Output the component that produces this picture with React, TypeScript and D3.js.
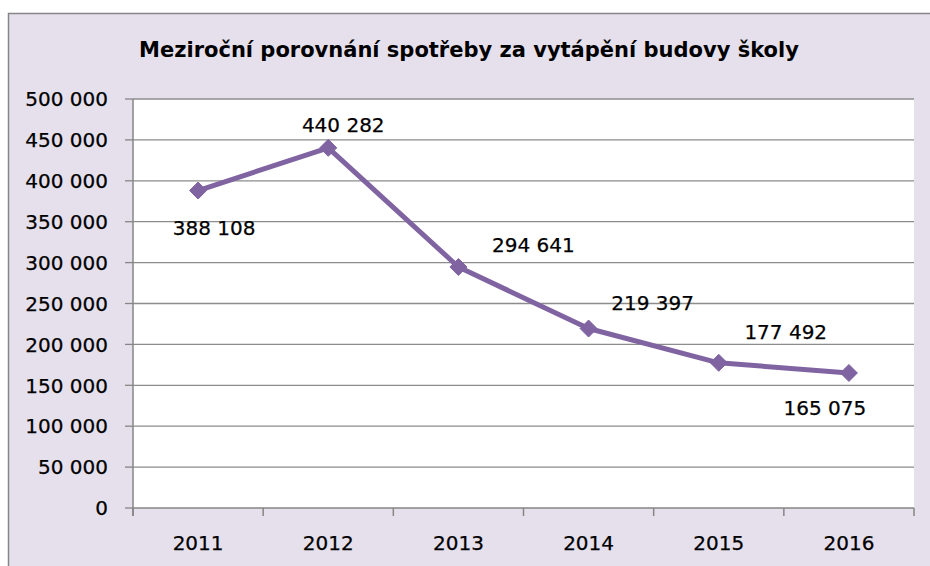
import React from "react";
import * as d3 from "d3";

const title = "Meziroční porovnání spotřeby za vytápění budovy školy";
const years = ["2011", "2012", "2013", "2014", "2015", "2016"];
const consumption = [388108, 440282, 294641, 219397, 177492, 165075];
const yTicks = [0, 50000, 100000, 150000, 200000, 250000, 300000, 350000, 400000, 450000, 500000];
// manual data-label offsets (label center relative to point)
const labelOffsets: [number, number][] = [
  [16, 37],
  [15, -23],
  [75, -22],
  [64, -26],
  [67, -31],
  [-24, 35],
];

const W = 930;
const H = 566;
const plot = { left: 133, right: 914, top: 99, bottom: 508 };
const FONT = "'DejaVu Sans', sans-serif";
const BG = "#E5E0EC";
const LINE = "#8064A2";
const GRID = "#8C8C8C";
const AXIS = "#868686";

const locale = d3.formatLocale({ decimal: ",", thousands: " ", grouping: [3], currency: ["", " Kč"] });
const fmt = locale.format(",d");

export default function App() {
  const x = d3.scaleBand<string>().domain(years).range([plot.left, plot.right]).padding(0);
  const y = d3.scaleLinear().domain([0, 500000]).range([plot.bottom, plot.top]);
  const cx = (yr: string) => (x(yr) as number) + x.bandwidth() / 2;
  const pts = years.map((yr, i) => [cx(yr), y(consumption[i])] as [number, number]);
  const line = d3.line<[number, number]>()(pts) as string;
  const boundaries = years.map((yr) => x(yr) as number).concat([plot.right]);
  const ms = 8.5;

  return (
    <svg width={W} height={H} style={{ position: "absolute", left: 0, top: 0, display: "block" }}>
      <rect x={8.5} y={13.5} width={W + 40} height={H + 40} fill={BG} stroke={AXIS} strokeWidth={1.5} />
      <text x={469} y={57} textAnchor="middle" fontFamily={FONT} fontWeight="bold" fontSize={21} fill="#000">
        {title}
      </text>
      <rect x={plot.left} y={plot.top} width={plot.right - plot.left} height={plot.bottom - plot.top} fill="#fff" />
      {yTicks.map((t) => (
        <g key={t}>
          {t > 0 && (
            <line x1={plot.left} x2={plot.right} y1={y(t)} y2={y(t)} stroke={GRID} strokeWidth={1.3} />
          )}
          <line x1={plot.left - 8} x2={plot.left} y1={y(t)} y2={y(t)} stroke={AXIS} strokeWidth={1.3} />
          <text x={108} y={y(t)} dy="0.36em" textAnchor="end" fontFamily={FONT} fontSize={20} fill="#000" stroke="#000" strokeWidth={0.25}>
            {fmt(t)}
          </text>
        </g>
      ))}
      <line x1={plot.left} x2={plot.left} y1={plot.top} y2={plot.bottom + 8} stroke={AXIS} strokeWidth={1.5} />
      <line x1={plot.left} x2={plot.right} y1={plot.bottom} y2={plot.bottom} stroke={AXIS} strokeWidth={1.5} />
      {boundaries.map((b, i) => (
        <line key={i} x1={b} x2={b} y1={plot.bottom} y2={plot.bottom + 8} stroke={AXIS} strokeWidth={1.5} />
      ))}
      {years.map((yr) => (
        <text key={yr} x={cx(yr)} y={550} textAnchor="middle" fontFamily={FONT} fontSize={20} fill="#000" stroke="#000" strokeWidth={0.25}>
          {yr}
        </text>
      ))}
      <path d={line} fill="none" stroke={LINE} strokeWidth={5} strokeLinejoin="round" />
      {pts.map(([px, py], i) => (
        <path
          key={i}
          d={`M${px},${py - ms}L${px + ms},${py}L${px},${py + ms}L${px - ms},${py}Z`}
          fill={LINE}
          stroke={LINE}
          strokeWidth={1}
        />
      ))}
      {pts.map(([px, py], i) => (
        <text
          key={i}
          x={px + labelOffsets[i][0]}
          y={py + labelOffsets[i][1]}
          dy="0.36em"
          textAnchor="middle"
          fontFamily={FONT}
          fontSize={20}
          fill="#000"
          stroke="#000"
          strokeWidth={0.25}
        >
          {fmt(consumption[i])}
        </text>
      ))}
    </svg>
  );
}
